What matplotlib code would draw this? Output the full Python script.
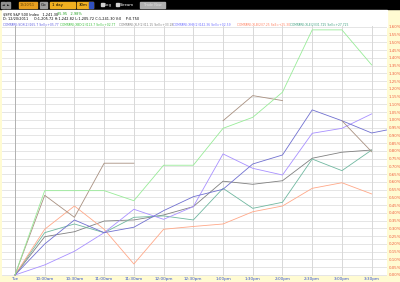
import numpy as np
import matplotlib
matplotlib.use("Agg")
import matplotlib.pyplot as plt
from matplotlib.patches import Rectangle

# Etiquetas del eje x (cada 30 minutos desde la apertura)
etiquetas_hora = ["Tue", "10:00am", "10:30am", "11:00am", "11:30am", "12:00pm",
                  "12:30pm", "1:00pm", "1:30pm", "2:00pm", "2:30pm", "3:00pm", "3:30pm"]
minutos = [0, 30, 60, 90, 120, 150, 180, 210, 240, 270, 300, 330, 360]
minutos_cierre = 375

# Variacion porcentual de cada serie comparada (nan = sin dato)
serie_verde = [0, 0.544, 0.544, 0.544, 0.479, 0.708, 0.708, 0.946, 1.017, 1.179, 1.581, 1.581, 1.355]
serie_marron = [0, 0.514, 0.372, 0.721, 0.721, np.nan, np.nan, 0.995, 1.157, 1.125, np.nan, 0.995, 0.795]
serie_salmon = [0, 0.295, 0.445, 0.295, 0.071, 0.295, 0.313, 0.329, 0.408, 0.445, 0.559, 0.595, 0.523]
serie_teal = [0, 0.273, 0.329, 0.273, 0.372, 0.381, 0.355, 0.559, 0.430, 0.469, 0.748, 0.673, 0.806]
serie_gris = [0, 0.247, 0.279, 0.348, 0.355, 0.387, 0.441, 0.605, 0.585, 0.608, 0.753, 0.792, 0.806]
serie_azul = [0, 0.200, 0.355, 0.273, 0.308, 0.415, 0.505, 0.553, 0.716, 0.774, 1.065, 0.995, 0.916]
serie_azul_cierre = 0.935
serie_lila = [0, 0.065, 0.153, 0.273, 0.424, 0.359, 0.441, 0.781, 0.688, 0.645, 0.914, 0.946, 1.039]

crema = "#fffbd2"
fig = plt.figure(figsize=(4, 2.82), dpi=100, facecolor=crema)

# Capa de fondo en pixeles para barra de herramientas y leyenda
ov = fig.add_axes([0, 0, 1, 1])
ov.set_xlim(0, 400)
ov.set_ylim(282, 0)
ov.axis("off")
ov.set_zorder(0)
ov.add_patch(Rectangle((0, 0), 400, 9, color="black"))
ov.add_patch(Rectangle((2, 10), 385, 17, color="white"))

# Controles de la barra
ov.add_patch(Rectangle((1, 1.5), 4, 6, color="#909090"))
ov.add_patch(Rectangle((6, 1.5), 4, 6, color="#909090"))
ov.text(3, 4.6, "◄", fontsize=2.5, color="black", ha="center", va="center")
ov.text(8, 4.6, "►", fontsize=2.5, color="black", ha="center", va="center")
ov.add_patch(Rectangle((19, 1.5), 18, 6, color="#e8a020"))
ov.text(20, 4.6, "12/20/11", fontsize=2.4, color="#604000", va="center")
ov.add_patch(Rectangle((40, 1.5), 7, 6, color="#a0a0a0"))
ov.text(43.5, 4.6, "Go", fontsize=2.8, color="black", ha="center", va="center")
ov.add_patch(Rectangle((50, 1.5), 25, 6, color="#f0b020"))
ov.text(52, 4.6, "1 day", fontsize=2.8, color="black", va="center")
ov.add_patch(Rectangle((77, 1.5), 16, 6, color="#f0b020"))
ov.add_patch(Rectangle((89, 1.5), 4, 6, color="#3050c0"))
ov.text(79, 4.6, "30m", fontsize=2.8, color="black", va="center")
ov.add_patch(Rectangle((101, 2.5), 3, 3.5, color="#d0d0d0"))
ov.text(105, 4.6, "Log", fontsize=2.8, color="white", va="center")
ov.add_patch(Rectangle((116, 2.5), 3, 3.5, color="#d0d0d0"))
ov.text(120, 4.6, "Stream", fontsize=2.8, color="white", va="center")
ov.add_patch(Rectangle((140, 1.5), 25, 6, color="#b0b0b0"))
ov.text(152.5, 4.6, "Trade Now", fontsize=2.4, color="#e0e0e0", ha="center", va="center")

# Texto de leyenda
ov.text(3, 14, "$SPX S&P 500 Index   1,241.30", fontsize=2.5, color="black", va="center")
ov.text(57, 14, "35.95   2.98%", fontsize=2.5, color="#20a020", va="center")
ov.text(3, 19, "D: 12/20/2011     O:1,205.72 H:1,242.82 L:1,205.72 C:1,241.30 V:0    P:0.750",
        fontsize=2.5, color="black", va="center")
partes = [
    (3, "COMPARE:SOX(2)|165.7 Sell=+05.77", "#6060e0"),
    (60, "COMPARE:XBD(2)|113.7 Sell=+02.77", "#40c040"),
    (119, "COMPARE:XLF(2)|11.15 Sell=+33.28", "#808080"),
    (173, "COMPARE:XHB(2)|142.36 Sell=+02.59", "#7070ff"),
    (237, "COMPARE:XLB(2)|7.25 Sell=+25.30", "#ff8060"),
    (290, "COMPARE:XLE(2)|31.725 Sell=+27.725", "#40a080"),
]
for x, txt, col in partes:
    ov.text(x, 24, txt, fontsize=2.2, color=col, va="center")

# Area del grafico
ax = fig.add_axes([2 / 400, 6 / 282, 385 / 400, 250 / 282])
ax.set_zorder(1)
ax.set_facecolor("white")
ax.set_xlim(-13.1, 375.5)
ax.set_ylim(-0.0065, 1.606)

for v in np.arange(0, 1.6001, 0.05):
    ax.axhline(v, color="#e0e0e0", lw=0.6, zorder=0)
for m in minutos:
    ax.axvline(m, color="#b0b0b0" if m == 0 else "#d8d8d8", lw=0.7, zorder=0)

ax.plot(minutos, serie_gris, color="#808080", lw=0.6)
ax.plot(minutos, serie_teal, color="#70b8a0", lw=0.6)
ax.plot(minutos, serie_salmon, color="#ffa888", lw=0.6)
ax.plot(minutos, serie_lila, color="#a890ff", lw=0.6)
ax.plot(minutos + [minutos_cierre], serie_azul + [serie_azul_cierre], color="#7070d0", lw=0.6)
ax.plot(minutos, serie_marron, color="#a89080", lw=0.6)
ax.plot(minutos, serie_verde, color="#98ec98", lw=0.6)

ax.yaxis.tick_right()
ax.set_yticks(np.arange(0, 1.6001, 0.05))
ax.set_yticklabels([f"{v:.2f}%" for v in np.arange(0, 1.6001, 0.05)],
                   fontsize=2.9, color="#f06040")
ax.set_xticks(minutos)
ax.set_xticklabels(etiquetas_hora, fontsize=3.0, color="#3050d0")
ax.tick_params(axis="both", length=0)
ax.tick_params(axis="y", pad=1.0)
ax.tick_params(axis="x", pad=0.8)
for s in ax.spines.values():
    s.set_visible(False)

plt.savefig("out.png", dpi=100, facecolor=crema)
